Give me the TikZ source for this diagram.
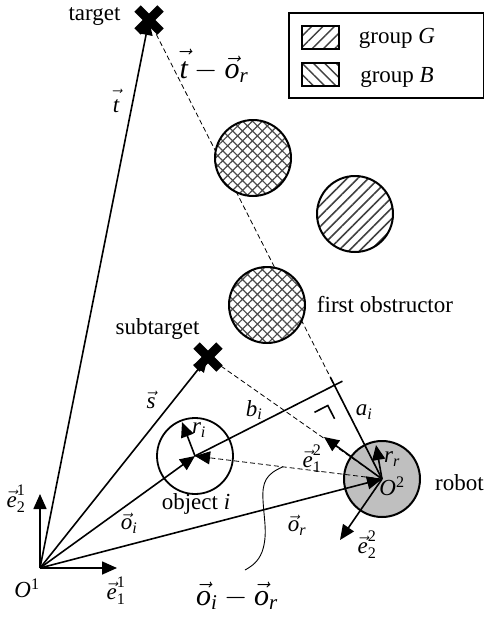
\RequirePackage{fix-cm}
\documentclass[tikz,border=0pt]{standalone}
\usepackage{amsmath}
\usepackage{fontspec}
\setmainfont{Liberation Serif}
\usetikzlibrary{arrows.meta,patterns.meta,calc}
\newcommand\vv[1]{\vec{\textit{#1}}}
\newcommand\vvt{\vec{\textit{t}\rule{0pt}{0.7em}}}
\newcommand\ti[1]{\textit{#1}}
\begin{document}
\begin{tikzpicture}[x=1pt,y=-1pt,
  every node/.style={font=\fontsize{23}{27}\selectfont, inner sep=0pt},
  biglabel/.style={font=\fontsize{30}{34}\selectfont, inner sep=0pt},
  tip/.style={-{Triangle[length=15pt,width=13pt]}},
  vecarrow/.style={line width=1.6pt, tip},
  seg/.style={line width=1.6pt},
  dashline/.style={line width=0.8pt, dash pattern=on 5pt off 3pt},
  xmark/.style={line width=9pt, line cap=butt},
  cross/.style={preaction={fill=white}, pattern={Hatch[angle=45,distance=7pt,line width=1.2pt]}, pattern color=black!70, line width=2pt},
  stripes/.style={preaction={fill=white}, pattern={Lines[angle=45,distance=7.5pt,line width=1.6pt]}, pattern color=black!75, line width=2pt},
]
\useasboundingbox (0,0) rectangle (485,621);

% key points
\coordinate (O1) at (40,568);
\coordinate (T) at (149,20);
\coordinate (S) at (208,357);
\coordinate (OBJ) at (195,456);
\coordinate (O2) at (382,479);
\coordinate (E11) at (117,568);
\coordinate (E21) at (40,494);
\coordinate (E12) at (324,437);
\coordinate (E22) at (340,540);
\coordinate (RR) at (376,445);
\coordinate (RI) at (182,422);
\coordinate (F) at ($(O2)!(OBJ)!(T)$);

% robot and object
\draw[line width=2pt, fill=black!25] (O2) circle (38);
\draw[line width=1.8pt] (OBJ) circle (38);

% dashed lines
\draw[dashline] (T) -- (O2);
\draw[dashline] (S) -- (O2);
\draw[dashline, tip] (O2) -- (OBJ);

% a_i and b_i
\draw[seg] ($(F)!-9pt!(OBJ)$) -- (OBJ);
\draw[seg] ($(F)!-9pt!(O2)$) -- (O2);
\draw[seg] (314.5,412.3) -- (327.8,405.5) -- (334.6,418.8);

% vectors from O1
\draw[vecarrow] (O1) -- (T);
\draw[vecarrow] (O1) -- (S);
\draw[vecarrow] (O1) -- (OBJ);
\draw[vecarrow] (O1) -- (O2);
\draw[vecarrow] (O1) -- (E11);
\draw[vecarrow] (O1) -- (E21);

% robot frame and radii
\draw[vecarrow] (O2) -- (E12);
\draw[vecarrow] (O2) -- (E22);
\draw[vecarrow] (O2) -- (RR);
\draw[vecarrow] (OBJ) -- (RI);

% crosses
\draw[xmark] ($(T)+(-11.5,-11.5)$) -- ($(T)+(11.5,11.5)$);
\draw[xmark] ($(T)+(-11.5,11.5)$) -- ($(T)+(11.5,-11.5)$);
\draw[xmark] ($(S)+(-11.5,-11.5)$) -- ($(S)+(11.5,11.5)$);
\draw[xmark] ($(S)+(-11.5,11.5)$) -- ($(S)+(11.5,-11.5)$);

% obstacles
\draw[cross] (253,158) circle (38);
\draw[stripes] (355,214) circle (38);
\draw[cross] (267,305) circle (38);

% annotation curve
\coordinate (C0) at ($(O2)!0.53!(OBJ)$);
\draw[line width=0.9pt] (C0) .. controls (266,474) and (262,482) .. (263,500)
  .. controls (264,520) and (268,535) .. (262,552)
  .. controls (258,562) and (252,566) .. (245,570);

% legend
\draw[line width=1.3pt] (289,13) rectangle (483.5,98);
\draw[line width=1.3pt, pattern={Lines[angle=45,distance=8pt,line width=1.4pt]}, pattern color=black!75] (302,26) rectangle (339,49);
\draw[line width=1.3pt, pattern={Lines[angle=-45,distance=8pt,line width=1.4pt]}, pattern color=black!75] (302,63) rectangle (339,86);
\node[anchor=base] (lg) at (397,43) {group \ti{G}};
\node[anchor=base] (lb) at (397,82) {group \ti{B}};

% text labels
\node[anchor=base] (ltarget) at (94.5,20) {target};
\node[anchor=base] (lsub) at (157.5,334) {subtarget};
\node[anchor=base] (lfirst) at (385,312) {first obstructor};
\node[anchor=base] (lrobot) at (459.5,490) {robot};
\node[anchor=base] (lobj) at (196,509) {object \ti{i}};

% math labels
\node (lt) at (116,101) {$\vvt$};
\node[biglabel] (ltor) at (214,66) {$\vvt-\vv{o}_{\ti{r}}$};
\node (ls) at (151,400) {$\vv{s}$};
\node (loi) at (129,523) {$\vv{o}_{\ti{i}}$};
\node (lor) at (297,525) {$\vv{o}_{\ti{r}}$};
\node (lbi) at (254,410) {$\ti{b}_{\ti{i}}$};
\node (lai) at (364,412) {$\ti{a}_{\ti{i}}$};
\node (lri) at (199,430) {$\ti{r}_{\ti{i}}$};
\node (lrr) at (392,459) {$\ti{r}_{\ti{r}}$};
\node (lO2) at (392,486) {\ti{O}$^{\textup{2}}$};
\node (le12) at (312,459) {$\vv{e}_{\textup{1}}^{\textup{2}}$};
\node (le22) at (367,545) {$\vv{e}_{\textup{2}}^{\textup{2}}$};
\node (le11) at (116,591) {$\vv{e}_{\textup{1}}^{\textup{1}}$};
\node (le21) at (16,499) {$\vv{e}_{\textup{2}}^{\textup{1}}$};
\node (lO1) at (27,588) {\ti{O}$^{\textup{1}}$};
\node[biglabel] (loior) at (237,596) {$\vv{o}_{\ti{i}}-\vv{o}_{\ti{r}}$};
\end{tikzpicture}
\end{document}
